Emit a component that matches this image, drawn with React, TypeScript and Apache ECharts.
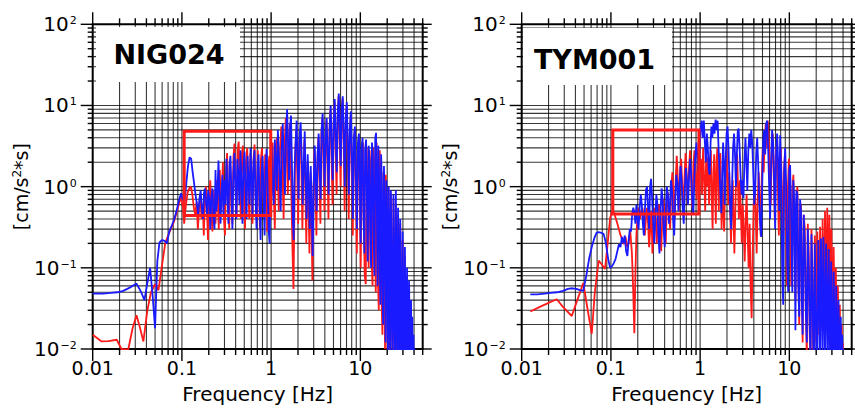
import React, { useEffect, useRef } from 'react';
import * as echarts from 'echarts';

// ---------- data (frequency [Hz], amplitude [cm/s^2*s]) ----------
const NIG_BLUE: number[][] = [
  [0.010,0.048],[0.013,0.048],[0.016,0.049],[0.019,0.050],[0.022,0.052],[0.026,0.057],[0.031,0.064],[0.035,0.050],[0.038,0.040],[0.041,0.065],[0.044,0.100],[0.047,0.045],[0.050,0.018],[0.053,0.120],[0.056,0.205],[0.060,0.220],[0.064,0.215],[0.068,0.200],[0.072,0.280],[0.077,0.330],[0.082,0.400],[0.087,0.500],[0.093,0.690],[0.098,0.830],[0.102,0.700],
  [0.107,0.650],[0.112,1.10],[0.117,1.80],[0.122,2.30],[0.127,2.20],[0.132,1.50],[0.137,1.10],[0.142,0.80],[0.147,0.62],[0.152,0.45],[0.157,0.70],[0.162,0.90],[0.167,0.55],[0.172,0.40],[0.177,0.85],[0.182,0.95],[0.187,0.60],[0.192,0.45],[0.197,0.90],[0.203,0.70],[0.208,0.30],[0.214,0.75],[0.220,0.95],[0.226,0.40],[0.232,0.30],[0.238,1.60],[0.244,0.50],[0.250,0.80],[0.257,2.10],[0.264,0.70],[0.271,0.35],[0.278,0.90],[0.285,1.40],[0.292,0.45],[0.300,1.20],[0.308,0.60],[0.316,2.20],[0.324,0.90],[0.332,0.35],[0.341,1.80],[0.350,2.40],[0.359,0.80],[0.368,0.30],[0.378,1.50],[0.388,2.60],[0.398,1.00],[0.408,0.40],[0.419,2.20],[0.430,1.40],[0.441,0.60],[0.453,2.80],[0.465,1.10],[0.477,0.35],[0.490,1.90],[0.503,2.70],[0.516,0.90],[0.530,0.40],[0.544,2.40],[0.558,1.20],[0.573,0.60],[0.588,3.00],[0.603,1.30],[0.619,0.45],[0.635,2.00],[0.652,2.80],[0.669,0.70],[0.687,0.30],[0.705,1.80],[0.723,2.50],[0.742,0.60],[0.762,0.22],[0.782,1.40],[0.802,2.40],[0.823,0.80],[0.845,0.25],[0.867,1.60],[0.890,2.90],[0.913,1.00],[0.937,0.30],[0.962,0.20],[0.987,1.50],
  [1.01,3.20],[1.04,1.00],[1.07,0.60],[1.10,3.80],[1.13,2.00],[1.16,0.90],[1.19,5.00],[1.22,2.50],[1.25,1.20],[1.28,0.50],[1.31,2.80],[1.35,6.00],[1.39,2.00],[1.43,0.80],[1.47,4.50],[1.51,9.00],[1.55,3.00],[1.59,1.20],[1.63,5.50],[1.67,7.50],[1.71,2.00],[1.75,0.40],[1.79,0.22],[1.83,1.50],[1.88,3.50],[1.93,6.50],[1.98,2.00],[2.03,0.70],[2.08,4.00],[2.14,6.20],[2.20,2.50],[2.26,0.60],[2.32,1.80],[2.38,4.80],[2.44,1.20],[2.50,0.40],[2.57,2.50],[2.64,1.00],[2.71,0.30],[2.78,1.80],[2.85,0.60],[2.92,0.14],[3.00,1.00],[3.08,3.20],[3.16,1.20],[3.24,0.50],[3.32,2.50],[3.41,4.50],[3.50,1.60],[3.59,0.70],[3.68,5.00],[3.78,8.00],[3.88,3.00],[3.98,1.00],[4.08,4.00],[4.19,7.00],[4.30,2.50],[4.41,0.80],[4.53,5.50],[4.65,10.0],[4.77,3.50],[4.90,1.20],[5.03,6.00],[5.16,12.0],[5.30,4.00],[5.44,1.50],[5.58,8.00],[5.73,14.0],[5.88,5.00],[6.03,1.80],[6.19,9.00],[6.35,13.0],[6.52,4.50],[6.69,1.00],[6.87,7.00],[7.05,11.0],[7.24,3.50],[7.43,0.80],[7.63,5.00],[7.83,8.50],
  [8.04,2.50],[8.25,0.40],[8.47,4.00],[8.69,5.50],[8.92,1.20],[9.16,0.30],[9.40,3.50],[9.65,4.50],[9.90,0.80],[10.1,0.20],[10.3,3.00],[10.6,4.00],[10.8,0.60],[11.1,0.15],[11.3,2.80],[11.6,3.80],[11.9,0.50],[12.1,0.12],[12.4,3.20],[12.7,2.00],[12.9,0.30],[13.2,0.10],[13.5,3.50],[13.8,2.50],[14.1,0.25],[14.4,0.08],[14.7,4.00],[15.0,4.60],[15.3,0.60],[15.6,0.06],[15.9,3.20],[16.2,1.50],[16.5,0.10],[16.8,0.035],[17.1,2.50],[17.4,1.20],[17.7,0.06],[18.0,0.02],[18.4,1.80],[18.8,0.40],[19.2,0.012],[19.6,1.20],[20.0,0.20],[20.4,0.008],[20.8,1.00],[21.2,0.10],[21.6,0.006],[22.0,0.90],[22.5,0.06],[23.0,0.005],[23.5,0.80],[24.0,0.05],[24.5,0.005],[25.0,0.90],[25.5,0.04],[26.0,0.005],[26.5,0.55],[27.0,0.03],[27.5,0.005],[28.0,0.40],[28.6,0.02],[29.2,0.004],[29.8,0.28],[30.4,0.015],[31.0,0.004],[31.6,0.18],[32.2,0.010],[32.8,0.004],[33.4,0.10],[34.0,0.008],[34.6,0.004],[35.2,0.07],[35.8,0.006],[36.4,0.004],[37.0,0.04],[37.6,0.005],[38.2,0.025],[38.8,0.004],[39.4,0.015],[40.0,0.004],[40.6,0.010],[41.2,0.004],
];

const NIG_RED: number[][] = [
  [0.010,0.015],[0.0126,0.0124],[0.015,0.0125],[0.0186,0.013],[0.021,0.010],[0.025,0.0098],[0.028,0.018],[0.031,0.026],[0.034,0.018],[0.037,0.0124],[0.041,0.030],[0.045,0.050],[0.050,0.063],[0.0546,0.053],[0.060,0.11],[0.065,0.20],[0.070,0.25],[0.075,0.30],[0.080,0.35],[0.086,0.45],[0.092,0.60],[0.098,0.75],[0.103,0.55],
  [0.106,0.35],[0.111,0.60],[0.116,0.85],[0.121,0.95],[0.126,1.00],[0.131,0.80],[0.136,0.55],[0.141,0.45],[0.146,0.65],[0.151,0.30],[0.156,0.55],[0.161,0.80],[0.166,0.40],[0.171,0.60],[0.176,0.25],[0.181,0.70],[0.186,1.00],[0.191,0.50],[0.196,0.22],[0.202,0.80],[0.208,1.20],[0.214,0.45],[0.220,0.28],[0.226,0.90],[0.232,0.60],[0.238,0.35],[0.245,1.20],[0.252,0.70],[0.259,0.30],[0.266,1.60],[0.273,0.50],[0.280,0.80],[0.288,2.00],[0.296,0.40],[0.304,0.25],[0.312,1.50],[0.321,2.60],[0.330,0.70],[0.339,0.30],[0.348,1.80],[0.358,0.90],[0.368,0.35],[0.378,2.30],[0.388,3.40],[0.399,1.00],[0.410,0.45],[0.421,2.80],[0.433,3.60],[0.445,1.20],[0.457,0.40],[0.470,2.50],[0.483,3.20],[0.496,0.90],[0.510,0.30],[0.524,2.00],[0.539,3.00],[0.554,1.10],[0.569,0.40],[0.585,2.60],[0.601,1.50],[0.618,0.35],[0.635,2.20],[0.652,3.30],[0.670,0.80],[0.689,0.40],[0.708,2.80],[0.728,1.20],[0.748,0.30],[0.769,2.20],[0.790,3.00],[0.812,0.90],[0.834,0.40],[0.857,2.50],[0.881,1.10],[0.905,0.28],[0.930,1.80],[0.956,2.40],[0.982,0.40],
  [1.01,1.50],[1.04,3.50],[1.07,0.80],[1.10,0.30],[1.13,2.50],[1.16,4.00],[1.19,1.20],[1.22,0.50],[1.26,3.00],[1.30,5.50],[1.34,1.50],[1.38,0.40],[1.42,3.50],[1.46,7.00],[1.50,2.50],[1.54,0.80],[1.58,4.00],[1.62,6.00],[1.66,1.80],[1.70,0.50],[1.74,0.15],[1.78,0.055],[1.82,0.40],[1.86,2.50],[1.91,5.00],[1.96,1.50],[2.01,0.35],[2.06,3.00],[2.12,5.00],[2.18,1.80],[2.24,0.30],[2.30,1.50],[2.36,3.80],[2.42,0.90],[2.48,0.20],[2.55,2.00],[2.62,0.70],[2.69,0.15],[2.76,1.50],[2.83,0.45],[2.90,0.07],[2.98,0.80],[3.06,2.80],[3.14,0.90],[3.22,0.25],[3.30,2.00],[3.39,4.00],[3.48,1.20],[3.57,0.35],[3.66,4.50],[3.76,7.00],[3.86,2.00],[3.96,0.50],[4.06,3.50],[4.17,6.50],[4.28,1.80],[4.39,0.40],[4.51,5.00],[4.63,9.00],[4.75,2.50],[4.88,0.60],[5.01,5.50],[5.14,11.0],[5.28,3.00],[5.42,0.80],[5.56,7.00],[5.71,13.0],[5.86,4.00],[6.01,1.00],[6.17,8.50],[6.33,12.0],[6.50,3.50],[6.67,0.50],[6.85,6.00],[7.03,10.0],[7.22,2.50],[7.41,0.40],[7.61,4.50],[7.81,7.50],[8.02,1.80],[8.23,0.25],[8.45,3.50],[8.67,5.00],[8.90,0.90],[9.14,0.15],[9.38,3.00],[9.63,4.00],[9.88,0.60],[10.1,0.10],[10.4,2.50],[10.7,3.50],[10.9,0.40],[11.2,0.08],[11.5,0.063],[11.8,3.00],[12.1,0.40],[12.4,0.10],[12.7,2.80],[13.0,1.50],[13.3,0.15],[13.7,0.06],[14.0,3.00],[14.3,2.00],[14.6,0.20],[14.9,0.05],[15.2,3.50],[15.5,1.20],[15.8,0.06],[16.1,0.03],[16.5,2.80],[16.9,1.00],[17.3,0.04],[17.7,0.015],[18.1,1.50],[18.5,0.30],[18.9,0.010],[19.3,1.40],[19.8,0.15],[20.2,0.007],[20.7,0.90],[21.1,0.08],[21.5,0.005],
  [22.0,0.80],[22.5,0.05],[23.0,0.005],[23.5,0.70],[24.0,0.04],[24.5,0.005],[25.0,0.60],[25.5,0.03],[26.0,0.004],[26.5,0.45],[27.0,0.025],[27.5,0.004],[28.0,0.35],[28.6,0.02],[29.2,0.004],[29.8,0.22],[30.4,0.012],[31.0,0.004],[31.6,0.14],[32.2,0.008],[32.8,0.004],[33.4,0.08],[34.0,0.006],[34.6,0.004],[35.2,0.05],[35.8,0.005],[36.4,0.03],[37.0,0.004],[37.6,0.02],[38.2,0.004],[38.8,0.012],[39.4,0.004],
];

const TYM_BLUE: number[][] = [
  [0.0125,0.047],[0.015,0.047],[0.018,0.048],[0.021,0.049],[0.025,0.050],[0.029,0.052],[0.033,0.055],[0.037,0.056],[0.041,0.055],[0.045,0.053],[0.049,0.052],[0.053,0.080],[0.057,0.130],[0.061,0.180],[0.065,0.230],[0.069,0.270],[0.073,0.275],[0.078,0.270],[0.083,0.260],[0.088,0.200],[0.093,0.130],[0.098,0.100],[0.103,0.105],[0.108,0.115],[0.113,0.130],[0.118,0.160],[0.123,0.195],[0.128,0.180],[0.133,0.240],[0.138,0.200],[0.143,0.250],[0.148,0.160],[0.153,0.140],[0.158,0.220],[0.163,0.300],[0.168,0.280],[0.173,0.450],[0.178,0.550],[0.183,0.480],[0.188,0.350],
  [0.193,0.60],[0.198,0.40],[0.204,0.30],[0.210,0.55],[0.216,0.80],[0.222,0.60],[0.228,0.35],[0.234,0.25],[0.240,0.50],[0.247,0.90],[0.254,1.00],[0.261,0.55],[0.268,0.30],[0.275,1.00],[0.282,1.25],[0.290,0.70],[0.298,0.35],[0.306,0.20],[0.314,0.40],[0.323,0.80],[0.332,0.60],[0.341,0.25],[0.350,0.15],[0.360,0.50],[0.370,0.95],[0.380,0.70],[0.390,0.30],[0.401,0.18],[0.412,0.50],[0.423,1.00],[0.435,0.80],[0.447,0.35],[0.459,0.60],[0.472,1.20],[0.485,0.90],[0.498,0.40],[0.512,0.25],[0.526,0.70],[0.541,1.40],[0.556,1.10],[0.571,0.50],[0.587,1.00],[0.603,1.80],[0.620,1.20],[0.637,0.55],[0.655,0.35],[0.673,0.90],[0.692,1.70],[0.711,1.20],[0.731,0.60],[0.751,1.30],[0.772,2.20],[0.793,1.50],[0.815,0.70],[0.838,0.45],[0.861,1.20],[0.885,2.50],[0.910,3.50],[0.935,2.20],[0.961,1.50],[0.988,3.00],
  [1.01,5.00],[1.04,6.50],[1.07,4.00],[1.10,6.50],[1.13,3.50],[1.16,2.00],[1.19,4.50],[1.22,3.00],[1.25,1.60],[1.28,1.40],[1.31,3.50],[1.34,5.50],[1.37,4.00],[1.41,6.00],[1.45,4.50],[1.49,6.70],[1.53,5.00],[1.57,6.50],[1.61,3.00],[1.65,1.50],[1.69,0.80],[1.73,0.47],[1.77,1.50],[1.81,3.50],[1.85,2.00],[1.89,0.60],[1.93,1.80],[1.98,4.50],[2.03,5.50],[2.08,3.00],[2.13,1.20],[2.18,0.50],[2.23,0.30],[2.28,1.00],[2.34,3.00],[2.40,4.50],[2.46,2.50],[2.52,1.00],[2.58,2.50],[2.64,4.80],[2.70,5.20],[2.77,3.00],[2.84,1.40],[2.91,0.80],[2.98,1.20],[3.06,0.72],[3.14,2.00],[3.22,4.00],[3.30,2.00],[3.38,0.90],[3.47,2.80],[3.56,4.50],[3.65,3.00],[3.74,5.00],[3.84,3.50],[3.94,1.50],[4.04,0.60],[4.14,0.90],[4.25,2.50],[4.36,4.00],[4.47,2.00],[4.59,0.70],[4.71,0.35],[4.83,0.24],[4.96,1.00],[5.09,3.50],[5.22,5.00],[5.36,2.50],[5.50,6.00],[5.64,6.50],[5.79,3.00],[5.94,1.00],[6.09,0.40],[6.25,2.00],[6.41,5.00],[6.58,3.50],[6.75,1.20],[6.93,0.30],[7.11,2.50],[7.30,4.50],[7.49,2.00],[7.69,0.50],[7.89,4.30],[8.10,1.50],[8.31,0.10],[8.53,0.035],[8.75,1.50],[8.98,3.00],[9.22,1.00],[9.46,0.12],[9.71,0.05],[9.97,1.60],
  [10.2,1.85],[10.5,0.40],[10.8,0.05],[11.1,1.20],[11.4,0.60],[11.7,0.017],[12.0,0.90],[12.3,0.80],[12.6,0.06],[12.9,0.025],[13.2,0.70],[13.5,0.50],[13.8,0.04],[14.1,0.015],[14.5,0.45],[14.9,0.20],[15.3,0.03],[15.7,0.012],[16.1,0.30],[16.5,0.10],[16.9,0.02],[17.3,0.008],[17.7,0.26],[18.1,0.08],[18.5,0.012],[18.9,0.006],[19.3,0.20],[19.7,0.06],[20.1,0.010],[20.6,0.005],[21.1,0.22],[21.6,0.05],[22.1,0.008],[22.6,0.23],[23.1,0.04],[23.6,0.006],[24.1,0.24],[24.6,0.04],[25.2,0.006],[25.8,0.20],[26.4,0.03],[27.0,0.005],[27.6,0.17],[28.2,0.025],[28.8,0.005],[29.4,0.12],[30.0,0.02],[30.7,0.004],[31.4,0.09],[32.1,0.015],[32.8,0.004],[33.5,0.06],[34.2,0.012],[34.9,0.004],[35.6,0.04],[36.3,0.008],[37.0,0.004],[37.7,0.025],[38.4,0.005],[39.1,0.015],[39.8,0.004],[40.5,0.010],[41.2,0.004],
];

const TYM_RED: number[][] = [
  [0.0125,0.029],[0.016,0.033],[0.020,0.037],[0.0247,0.041],[0.029,0.033],[0.0364,0.0255],[0.042,0.040],[0.049,0.065],[0.055,0.030],[0.061,0.0154],[0.066,0.050],[0.073,0.123],[0.079,0.110],[0.086,0.097],[0.092,0.200],[0.098,0.410],[0.103,0.500],[0.108,0.480],[0.114,0.400],[0.120,0.330],[0.127,0.260],[0.134,0.220],[0.140,0.195],[0.146,0.240],[0.152,0.180],[0.158,0.200],[0.165,0.280],[0.172,0.150],[0.178,0.050],[0.183,0.0156],[0.188,0.080],[0.193,0.250],[0.199,0.450],[0.205,0.550],[0.212,0.400],[0.219,0.500],[0.226,0.550],
  [0.233,0.35],[0.240,0.25],[0.247,0.40],[0.254,0.55],[0.261,0.35],[0.268,0.18],[0.276,0.30],[0.284,0.50],[0.292,0.15],[0.300,0.35],[0.309,0.55],[0.318,0.40],[0.327,0.20],[0.336,0.45],[0.346,0.60],[0.356,0.30],[0.366,0.16],[0.377,0.45],[0.388,0.70],[0.399,0.35],[0.411,0.20],[0.423,0.55],[0.435,0.85],[0.448,0.50],[0.461,0.30],[0.474,0.90],[0.488,1.50],[0.502,0.80],[0.517,0.40],[0.532,1.20],[0.547,2.40],[0.563,1.20],[0.579,0.50],[0.596,1.50],[0.613,2.20],[0.631,1.00],[0.649,0.45],[0.668,1.30],[0.687,2.60],[0.707,1.40],[0.728,0.60],[0.749,1.60],[0.771,2.80],[0.793,1.20],[0.816,0.55],[0.840,1.80],[0.864,2.80],[0.889,1.40],[0.915,0.70],[0.941,2.00],[0.968,3.00],[0.996,1.50],
  [1.02,2.20],[1.05,0.80],[1.08,3.00],[1.11,1.20],[1.14,0.50],[1.17,2.50],[1.20,1.00],[1.23,2.30],[1.26,0.60],[1.29,1.80],[1.32,2.80],[1.35,0.70],[1.38,0.30],[1.41,1.50],[1.44,2.50],[1.47,0.90],[1.50,0.35],[1.53,2.00],[1.56,3.00],[1.59,1.20],[1.62,0.50],[1.65,1.80],[1.68,2.60],[1.71,0.80],[1.74,0.30],[1.78,1.20],[1.82,0.50],[1.86,0.28],[1.90,1.00],[1.94,2.00],[1.98,3.00],[2.02,1.20],[2.07,0.60],[2.12,1.50],[2.17,0.50],[2.22,0.20],[2.27,0.60],[2.32,1.20],[2.37,0.40],[2.42,0.15],[2.48,0.50],[2.54,1.50],[2.60,2.50],[2.66,1.00],[2.72,0.40],[2.79,1.20],[2.86,0.50],[2.93,0.20],[3.00,0.60],[3.08,0.30],[3.16,0.12],[3.24,0.40],[3.32,0.80],[3.41,0.25],[3.50,0.10],[3.59,0.35],[3.68,0.06],[3.78,0.024],[3.88,0.15],[3.98,0.60],[4.08,1.20],[4.19,0.50],[4.30,0.15],[4.41,0.60],[4.53,1.50],[4.65,0.70],[4.77,0.25],[4.90,1.20],[5.03,3.00],[5.16,1.50],[5.30,4.00],[5.44,6.00],[5.58,3.00],[5.73,6.50],[5.88,4.00],[6.03,1.50],[6.19,0.60],[6.35,3.00],[6.52,4.50],[6.69,1.50],[6.87,0.40],[7.05,2.50],[7.24,3.50],[7.43,1.00],[7.63,0.25],[7.83,2.00],[8.04,3.00],[8.25,0.80],[8.47,0.15],[8.69,1.50],[8.92,2.50],[9.16,0.50],[9.40,0.06],[9.65,1.00],[9.90,2.20],
  [10.2,0.50],[10.5,0.06],[10.8,0.90],[11.1,1.40],[11.4,0.20],[11.7,0.04],[12.0,0.70],[12.3,1.00],[12.6,0.10],[12.9,0.020],[13.2,0.50],[13.5,0.60],[13.8,0.06],[14.1,0.012],[14.5,0.45],[14.9,0.30],[15.3,0.03],[15.7,0.008],[16.1,0.35],[16.5,0.15],[16.9,0.015],[17.3,0.006],[17.7,0.30],[18.1,0.10],[18.5,0.010],[18.9,0.005],[19.3,0.25],[19.7,0.08],[20.1,0.012],[20.6,0.28],[21.1,0.06],[21.6,0.015],[22.1,0.32],[22.6,0.08],[23.1,0.020],[23.6,0.40],[24.1,0.10],[24.6,0.03],[25.1,0.50],[25.6,0.12],[26.1,0.03],[26.6,0.55],[27.1,0.10],[27.6,0.025],[28.1,0.45],[28.6,0.08],[29.1,0.020],[29.6,0.30],[30.2,0.05],[30.8,0.015],[31.4,0.18],[32.0,0.03],[32.6,0.010],[33.2,0.10],[33.8,0.020],[34.4,0.006],[35.0,0.06],[35.6,0.012],[36.2,0.005],[36.8,0.035],[37.4,0.008],[38.0,0.004],[38.6,0.020],[39.2,0.005],[39.8,0.012],[40.4,0.004],
];

// boxes drawn on the panels [xMin, yMax, xMax, yMin]
const NIG_RECT = [0.106, 4.8, 0.99, 0.44];
const TYM_RECT = [0.105, 5.0, 0.97, 0.46];

const PANEL_TITLES = ['NIG024', 'TYM001'];
const X_TICK_LABELS = ['0.01', '0.1', '1', '10'];
const Y_TICK_EXPONENTS = ['−2', '−1', '0', '1', '2'];
const X_RANGE = [0.01, 50];
const Y_RANGE = [0.01, 100];
const X_DECADES = [0.01, 0.1, 1, 10];
const Y_DECADES = [0.01, 0.1, 1, 10];
const MULTS = [1, 2, 3, 4, 5, 6, 7, 8, 9];

// ---------- layout ----------
const FONT = 'DejaVu Sans';
const GRIDS = [
  { left: 92.7, top: 24.3, width: 330, height: 328.4 },
  { left: 521.7, top: 24.3, width: 330, height: 328.4 },
];
const TITLE_BOXES = [
  { x: 96, y: 27, w: 144, h: 55, cx: 169, cy: 54 },
  { x: 523, y: 28, w: 149, h: 57, cx: 594.5, cy: 59 },
];

function gridValues(decades: number[], max: number) {
  const out: number[][] = [];
  decades.forEach((d) => {
    MULTS.forEach((m) => {
      const v = Number((d * m).toPrecision(6));
      if (v <= max + 1e-9) out.push([v, m === 1 ? 1 : 0]);
    });
  });
  if (!out.some((p) => Math.abs(p[0] - max) < 1e-9)) out.push([max, 1]);
  return out;
}

const GRID_STROKE = 'rgba(0,0,0,0.78)';
const LINE_W = 1.8;

function buildOption() {
  const xg = gridValues(X_DECADES, X_RANGE[1]);
  const yg = gridValues(Y_DECADES, Y_RANGE[1]);
  const series: any[] = [];
  const xAxis: any[] = [];
  const yAxis: any[] = [];
  const panels = [
    { red: NIG_RED, blue: NIG_BLUE, rect: NIG_RECT },
    { red: TYM_RED, blue: TYM_BLUE, rect: TYM_RECT },
  ];
  panels.forEach((p, i) => {
    xAxis.push({
      type: 'log', logBase: 10, gridIndex: i, min: X_RANGE[0], max: X_RANGE[1],
      axisLine: { show: false }, axisTick: { show: false }, splitLine: { show: false },
      axisLabel: {
        margin: 9, color: '#000', fontFamily: FONT, fontSize: 19, showMaxLabel: false,
        formatter: (v: number) => {
          const e = Math.log10(v); const r = Math.round(e);
          if (Math.abs(e - r) > 1e-6) return '';
          return X_TICK_LABELS[r + 2] ?? '';
        },
      },
      name: 'Frequency [Hz]', nameLocation: 'middle', nameGap: 35,
      nameTextStyle: { color: '#000', fontFamily: FONT, fontSize: 20 },
    });
    yAxis.push({
      type: 'log', logBase: 10, gridIndex: i, min: Y_RANGE[0], max: Y_RANGE[1],
      axisLine: { show: false }, axisTick: { show: false }, splitLine: { show: false },
      axisLabel: {
        margin: 16, color: '#000',
        formatter: (v: number) => {
          const e = Math.log10(v); const r = Math.round(e);
          if (Math.abs(e - r) > 1e-6) return '';
          return `{b|10}{s|${Y_TICK_EXPONENTS[r + 2]}}`;
        },
        rich: {
          b: { fontFamily: FONT, fontSize: 20, color: '#000' },
          s: { fontFamily: FONT, fontSize: 11, color: '#000', verticalAlign: 'top', padding: [1, 0, 0, 1] },
        },
      },
      name: '[cm/s{s|2}*s]', nameLocation: 'middle', nameGap: 60,
      nameTextStyle: {
        color: '#000', fontFamily: FONT, fontSize: 19,
        rich: {
          s: { fontFamily: FONT, fontSize: 12, color: '#000', verticalAlign: 'top' },
        },
      },
    });
    // vertical grid lines + ticks
    series.push({
      type: 'custom', xAxisIndex: i, yAxisIndex: i, silent: true, z: 1,
      data: xg.map((g) => [g[0], 1, g[1]]), encode: { x: 0, y: 1 },
      renderItem: (_params: any, api: any) => {
        const x = api.value(0); const major = api.value(2) === 1;
        const top = api.coord([x, Y_RANGE[1]]); const bot = api.coord([x, Y_RANGE[0]]);
        const len = major ? 12 : 6;
        const children: any[] = [];
        const style = { stroke: '#000', lineWidth: 1.4 };
        if (x > X_RANGE[0] * 1.0001 && x < X_RANGE[1] * 0.9999) {
          children.push({ type: 'line', shape: { x1: top[0], y1: top[1], x2: bot[0], y2: bot[1] }, style: { stroke: GRID_STROKE, lineWidth: 1.1 } });
        }
        children.push({ type: 'line', shape: { x1: top[0], y1: top[1], x2: top[0], y2: top[1] - len }, style });
        children.push({ type: 'line', shape: { x1: bot[0], y1: bot[1], x2: bot[0], y2: bot[1] + len }, style });
        return { type: 'group', children };
      },
    });
    // horizontal grid lines + ticks
    series.push({
      type: 'custom', xAxisIndex: i, yAxisIndex: i, silent: true, z: 1,
      data: yg.map((g) => [1, g[0], g[1]]), encode: { x: 0, y: 1 },
      renderItem: (_params: any, api: any) => {
        const y = api.value(1); const major = api.value(2) === 1;
        const l = api.coord([X_RANGE[0], y]); const r = api.coord([X_RANGE[1], y]);
        const style = { stroke: '#000', lineWidth: 1.4 };
        const children: any[] = [];
        if (y > Y_RANGE[0] * 1.0001 && y < Y_RANGE[1] * 0.9999) {
          children.push({ type: 'line', shape: { x1: l[0], y1: l[1], x2: r[0], y2: r[1] }, style: { stroke: GRID_STROKE, lineWidth: 1.1 } });
        }
        children.push({ type: 'line', shape: { x1: l[0], y1: l[1], x2: l[0] - (major ? 12 : 5), y2: l[1] }, style });
        children.push({ type: 'line', shape: { x1: r[0], y1: r[1], x2: r[0] + (major ? 9 : 5), y2: r[1] }, style });
        return { type: 'group', children };
      },
    });
    series.push({
      type: 'line', xAxisIndex: i, yAxisIndex: i, data: p.red, showSymbol: false, symbol: 'none',
      lineStyle: { color: '#ff1a1a', width: LINE_W }, z: 3, silent: true,
    });
    series.push({
      type: 'line', xAxisIndex: i, yAxisIndex: i, data: p.blue, showSymbol: false, symbol: 'none',
      lineStyle: { color: '#1a1aff', width: LINE_W }, z: 4, silent: true,
    });
    series.push({
      type: 'custom', xAxisIndex: i, yAxisIndex: i, silent: true, z: 5,
      data: [p.rect], encode: { x: [0, 2], y: [1, 3] },
      renderItem: (_params: any, api: any) => {
        const a = api.coord([api.value(0), api.value(1)]);
        const b = api.coord([api.value(2), api.value(3)]);
        return {
          type: 'rect',
          shape: { x: a[0], y: a[1], width: b[0] - a[0], height: b[1] - a[1] },
          style: { fill: 'none', stroke: '#ff1a1a', lineWidth: 3 },
        };
      },
    });
  });

  const graphic: any[] = [];
  TITLE_BOXES.forEach((b, i) => {
    graphic.push({ type: 'rect', z: 100, silent: true, shape: { x: b.x, y: b.y, width: b.w, height: b.h }, style: { fill: '#fff' } });
    graphic.push({
      type: 'text', z: 101, silent: true, x: b.cx, y: b.cy,
      style: { text: PANEL_TITLES[i], fontFamily: FONT, fontWeight: 'bold', fontSize: 27, fill: '#000', align: 'center', verticalAlign: 'middle' },
    });
  });

  return {
    animation: false,
    backgroundColor: '#fff',
    grid: GRIDS.map((g) => ({ ...g, show: true, borderColor: '#000', borderWidth: 2, backgroundColor: '#fff' })),
    xAxis, yAxis, series, graphic,
  };
}

export default function App() {
  const ref = useRef<HTMLDivElement>(null);
  useEffect(() => {
    const chart = echarts.init(ref.current!, null, { renderer: 'svg' });
    chart.setOption(buildOption() as any);
    return () => chart.dispose();
  }, []);
  return <div ref={ref} style={{ position: 'absolute', left: 0, top: 0, width: 855, height: 409 }} />;
}
